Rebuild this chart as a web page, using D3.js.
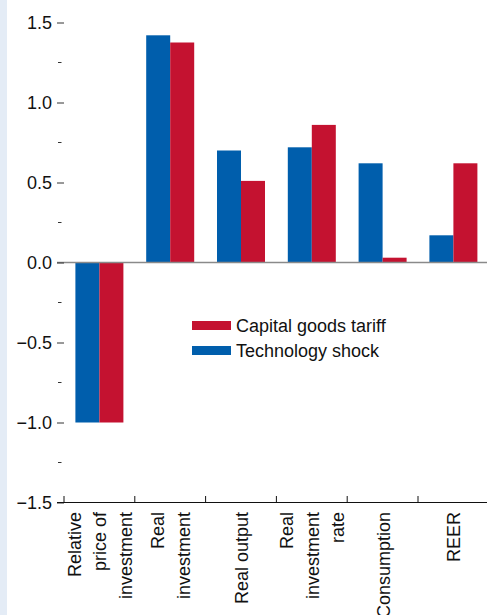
<!DOCTYPE html>
<html>
<head>
<meta charset="utf-8">
<script src="https://cdn.jsdelivr.net/npm/d3@7"></script>
<style>
  html, body { margin: 0; padding: 0; background: #ffffff; }
  svg { display: block; font-family: "Liberation Sans", Arial, Helvetica, sans-serif; }
</style>
</head>
<body>
<svg id="chart" width="487" height="615"></svg>
<script>
const categories = ["Relative price of investment", "Real investment", "Real output", "Real investment rate", "Consumption", "REER"];
const categoryLines = [["Relative", "price of", "investment"], ["Real", "investment"], ["Real output"], ["Real", "investment", "rate"], ["Consumption"], ["REER"]];
const seriesNames = ["Technology shock", "Capital goods tariff"];
const technologyShock = [-1.0, 1.42, 0.70, 0.72, 0.62, 0.17];
const capitalGoodsTariff = [-1.0, 1.375, 0.51, 0.86, 0.03, 0.62];
const majorTicks = [-1.5, -1.0, -0.5, 0.0, 0.5, 1.0, 1.5];
const minorTicks = [-1.25, -0.75, -0.25, 0.25, 0.75, 1.25];
const legendOrder = ["Capital goods tariff", "Technology shock"];

const colors = { "Technology shock": "#005eac", "Capital goods tariff": "#c41230" };
const seriesValues = { "Technology shock": technologyShock, "Capital goods tariff": capitalGoodsTariff };

const svg = d3.select("#chart");
const W = 487, H = 615;

// left light-blue stripe
svg.append("rect").attr("x", 0).attr("y", 0).attr("width", 7).attr("height", H).attr("fill", "#e4ecf6");

const y = d3.scaleLinear().domain([-1.5, 1.5]).range([502.5, 22.5]);
const x = d3.scaleBand().domain(categories).range([64, 64 + 6 * 70.8]);
const pairW = 48;
const x1 = d3.scaleBand().domain(seriesNames).range([0, pairW]);

// bars
const g = svg.append("g");
categories.forEach((c, i) => {
  const off = x(c) + (x.bandwidth() - pairW) / 2;
  seriesNames.forEach(s => {
    const v = seriesValues[s][i];
    g.append("rect")
      .attr("x", off + x1(s))
      .attr("width", x1.bandwidth())
      .attr("y", y(Math.max(0, v)))
      .attr("height", Math.abs(y(v) - y(0)))
      .attr("fill", colors[s]);
  });
});

// zero line
svg.append("line").attr("x1", 57).attr("x2", W).attr("y1", y(0)).attr("y2", y(0))
  .attr("stroke", "#8a8a8a").attr("stroke-width", 1.6);

// y axis (major ticks + labels)
const yAxis = d3.axisLeft(y).tickValues(majorTicks).tickSize(7).tickPadding(5).tickFormat(d3.format(".1f"));
const ya = svg.append("g").attr("transform", "translate(64,0)").call(yAxis);
ya.select(".domain").remove();
ya.selectAll(".tick line").attr("stroke", "#333");
ya.selectAll(".tick text").attr("font-size", 18).attr("fill", "#111").attr("font-family", null);

// minor ticks
svg.append("g").selectAll("line").data(minorTicks).join("line")
  .attr("x1", 58).attr("x2", 61.5)
  .attr("y1", d => y(d)).attr("y2", d => y(d))
  .attr("stroke", "#333").attr("stroke-width", 1);

// bottom axis line
svg.append("line").attr("x1", 57).attr("x2", W).attr("y1", y(-1.5)).attr("y2", y(-1.5))
  .attr("stroke", "#111").attr("stroke-width", 1);
svg.append("g").selectAll("line").data(categories).join("line")
  .attr("x1", d => x(d)).attr("x2", d => x(d))
  .attr("y1", y(-1.5)).attr("y2", y(-1.5) - 6.5)
  .attr("stroke", "#111").attr("stroke-width", 1);

// category labels (rotated)
const lh = 25.5;
categories.forEach((c, i) => {
  const lines = categoryLines[i];
  const cx = x(c) + x.bandwidth() / 2;
  const t = svg.append("text")
    .attr("transform", `translate(${cx},512) rotate(-90)`)
    .attr("text-anchor", "end")
    .attr("font-size", 18)
    .attr("fill", "#111");
  lines.forEach((ln, j) => {
    t.append("tspan").attr("x", 0)
      .attr("y", (j - (lines.length - 1) / 2) * lh + 7)
      .text(ln);
  });
});

// legend
const leg = svg.append("g");
legendOrder.forEach((s, i) => {
  const yy = 321 + i * 25;
  leg.append("rect").attr("x", 192).attr("y", yy).attr("width", 39).attr("height", 9).attr("fill", colors[s]);
  leg.append("text").attr("x", 236).attr("y", yy + 11).attr("font-size", 18).attr("fill", "#111").text(s);
});
</script>
</body>
</html>
